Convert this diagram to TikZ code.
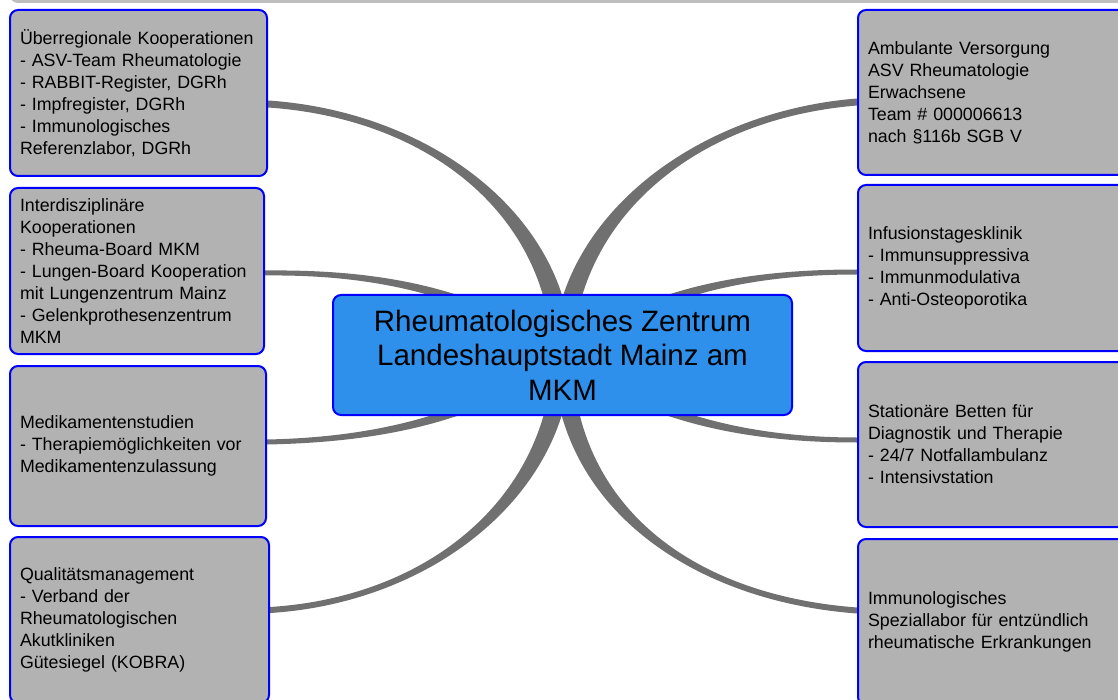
\documentclass[tikz,border=0pt]{standalone}
\usepackage{fontspec}
\setmainfont{Liberation Sans}
\usetikzlibrary{positioning,calc,backgrounds}
\definecolor{boxgray}{RGB}{178,178,178}
\definecolor{branchgray}{RGB}{112,112,112}
\definecolor{hubblue}{RGB}{46,144,234}
\definecolor{stripgray}{RGB}{190,190,190}

% tapered branch: from, control 1, control 2, to, half width at from, half width at to
\newcommand\branch[6]{%
  \fill[branchgray] ($(#1)!#5!90:(#2)$) .. controls ($(#2)!#5!-90:(#1)$) and ($(#3)!#6!90:(#4)$) .. ($(#4)!#6!-90:(#3)$)
    -- ($(#4)!#6!90:(#3)$) .. controls ($(#3)!#6!-90:(#4)$) and ($(#2)!#5!90:(#1)$) .. ($(#1)!#5!-90:(#2)$) -- cycle;}

\begin{document}
\begin{tikzpicture}[x=1pt,y=-1pt,node distance=10pt]
	  \tikzstyle{topic}=[draw=blue,line width=2pt,fill=boxgray,rounded corners=8pt,anchor=north west,
	    align=left,inner xsep=10pt,font=\fontsize{17.8}{22}\selectfont]
	  \tikzstyle{hub}=[draw=blue,line width=2pt,fill=hubblue,rounded corners=8pt,align=center,
	    minimum width=459pt,minimum height=120pt,font=\fontsize{29.5}{34.5}\selectfont]

	  \useasboundingbox (0,0) rectangle (1118,700);
	  \fill[stripgray,rounded corners=8pt] (10,-40) rectangle (1140,3);

	  \node[hub] (Z) at (562.5,355) {Rheumatologisches Zentrum\\Landeshauptstadt Mainz am\\MKM};

	  % left column
	  \node[topic,text width=237pt,minimum height=166pt] (L1) at (9,9)
	    {Überregionale Kooperationen\\- ASV-Team Rheumatologie\\- RABBIT-Register, DGRh\\- Impfregister, DGRh\\- Immunologisches\\Referenzlabor, DGRh};
	  \node[topic,text width=234pt,minimum height=166pt] (L2) [below=10pt of L1.south west,anchor=north west]
	    {Interdisziplinäre\\Kooperationen\\- Rheuma-Board MKM\\- Lungen-Board Kooperation\\mit Lungenzentrum Mainz\\- Gelenkprothesenzentrum\\MKM};
	  \node[topic,text width=236pt,minimum height=160pt] (L3) [below=10pt of L2.south west,anchor=north west]
	    {Medikamentenstudien\\- Therapiemöglichkeiten vor\\Medikamentenzulassung};
	  \node[topic,text width=239pt,minimum height=166pt] (L4) [below=9pt of L3.south west,anchor=north west]
	    {Qualitätsmanagement\\- Verband der\\Rheumatologischen\\Akutkliniken\\Gütesiegel (KOBRA)};

	  % right column
	  \node[topic,text width=250pt,minimum height=165pt] (R1) at (857,9)
	    {Ambulante Versorgung\\ASV Rheumatologie\\Erwachsene\\Team \# 000006613\\nach §116b SGB V};
	  \node[topic,text width=250pt,minimum height=166pt] (R2) [below=8pt of R1.south west,anchor=north west]
	    {Infusionstagesklinik\\- Immunsuppressiva\\- Immunmodulativa\\- Anti-Osteoporotika};
	  \node[topic,text width=250pt,minimum height=165pt] (R3) [below=9pt of R2.south west,anchor=north west]
	    {Stationäre Betten für\\Diagnostik und Therapie\\- 24/7 Notfallambulanz\\- Intensivstation};
	  \node[topic,text width=250pt,minimum height=166pt] (R4) [below=10pt of R3.south west,anchor=north west]
	    {Immunologisches\\Speziallabor für entzündlich\\rheumatische Erkrankungen};

	  \coordinate (l1) at ([yshift=-11pt]L1.east);
	  \coordinate (l2) at ([yshift=-2pt]L2.east);
	  \coordinate (l3) at ([yshift=4pt]L3.east);
	  \coordinate (l4) at ([yshift=10pt]L4.east);
	  \coordinate (r1) at ([yshift=-9.5pt]R1.west);
	  \coordinate (r2) at ([yshift=-4pt]R2.west);
	  \coordinate (r3) at ([yshift=4.5pt]R3.west);
	  \coordinate (r4) at ([yshift=11.5pt]R4.west);

	  \begin{scope}[on background layer]
	    \branch{Z.center}{558,215}{430,115}{l1}{10pt}{3.5pt}
	    \branch{Z.center}{470,285}{360,272}{l2}{5.5pt}{2.5pt}
	    \branch{Z.center}{470,425}{360,440}{l3}{5.5pt}{2.5pt}
	    \branch{Z.center}{558,497}{430,600}{l4}{9.5pt}{3pt}
	    \branch{Z.center}{567,218}{695,115}{r1}{10pt}{3.5pt}
	    \branch{Z.center}{655,285}{765,272}{r2}{5.5pt}{2.5pt}
	    \branch{Z.center}{655,425}{765,440}{r3}{5.5pt}{2.5pt}
	    \branch{Z.center}{565,505}{690,598}{r4}{9.5pt}{3pt}
	  \end{scope}
\end{tikzpicture}
\end{document}
